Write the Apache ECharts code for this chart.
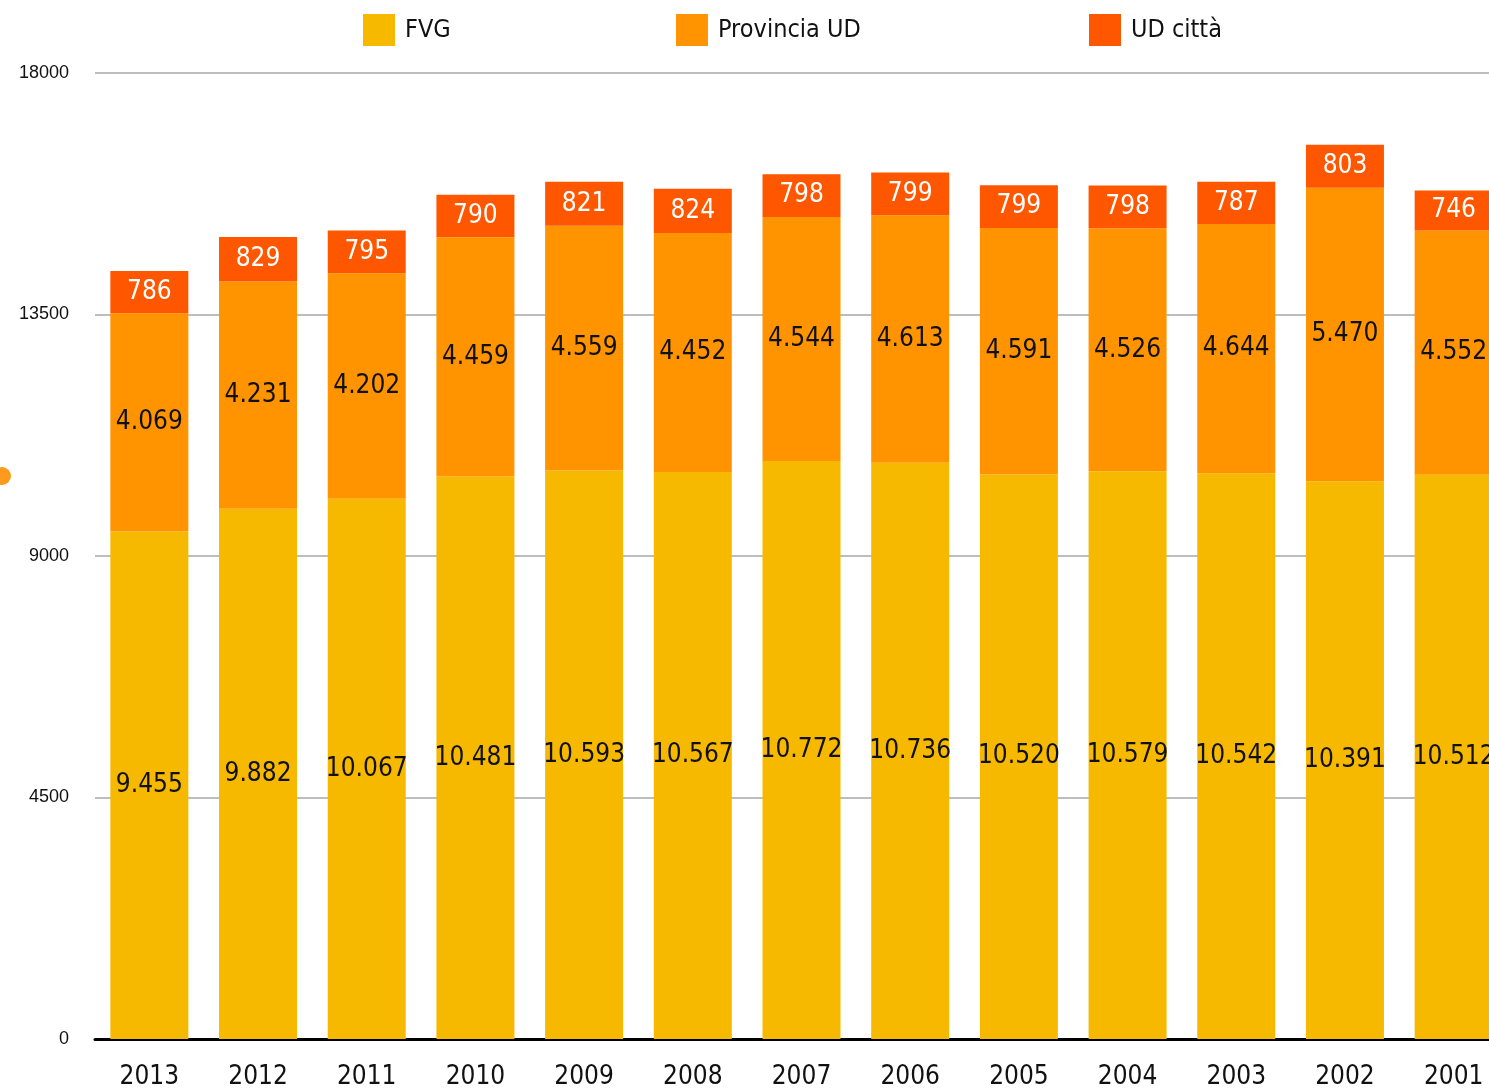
<!DOCTYPE html>
<html>
<head>
<meta charset="utf-8">
<title>FVG - Provincia UD - UD città</title>
<script src="https://cdn.jsdelivr.net/npm/echarts@6/dist/echarts.min.js"></script>
<style>
  html, body { margin: 0; padding: 0; background: #fff; overflow: hidden; }
  /* the plot runs a little past the right edge of the window, as in the original */
  #chart { width: 1508px; height: 1092px; }
</style>
</head>
<body>
<div id="chart"></div>
<script>
const years = ['2013', '2012', '2011', '2010', '2009', '2008', '2007', '2006', '2005', '2004', '2003', '2002', '2001'];
const fvg = [9455, 9882, 10067, 10481, 10593, 10567, 10772, 10736, 10520, 10579, 10542, 10391, 10512];
const provinciaUD = [4069, 4231, 4202, 4459, 4559, 4452, 4544, 4613, 4591, 4526, 4644, 5470, 4552];
const udCitta = [786, 829, 795, 790, 821, 824, 798, 799, 799, 798, 787, 803, 746];
const yTicks = [0, 4500, 9000, 13500, 18000];

const narrow = "'DejaVu Sans Condensed', 'Liberation Sans Narrow', sans-serif";

// Italian style thousands separator: 10.481
function itNum(v) {
    return String(v).replace(/\B(?=(\d{3})+(?!\d))/g, '.');
}

function legendItem(name, left) {
    return {
        data: [name],
        left: left,
        top: 9,
        itemWidth: 32,
        itemHeight: 32,
        icon: 'rect',
        selectedMode: false,
        textStyle: {
            fontFamily: narrow,
            fontSize: 25,
            color: '#111',
            padding: [0, 0, 0, 5],
        },
    };
}

function barSeries(name, data, color, labelColor) {
    return {
        name: name,
        type: 'bar',
        stack: 'total',
        barWidth: 78,
        data: data,
        itemStyle: { color: color },
        label: {
            show: true,
            position: 'inside',
            fontFamily: narrow,
            fontSize: 26,
            color: labelColor,
            formatter: (p) => itNum(p.value),
        },
    };
}

function getOption() {
    return {
        animation: false,
        backgroundColor: '#fff',
        legend: [
            legendItem('FVG', 358),
            legendItem('Provincia UD', 671),
            legendItem('UD città', 1084),
        ],
        grid: {
            left: 95,
            right: 0,
            top: 73,
            bottom: 53,
            containLabel: false,
        },
        xAxis: {
            type: 'category',
            data: years,
            axisTick: { show: false },
            axisLine: { lineStyle: { color: '#000', width: 3 } },
            axisLabel: {
                fontFamily: narrow,
                fontSize: 26,
                color: '#111',
                margin: 25,
            },
        },
        yAxis: {
            type: 'value',
            min: yTicks[0],
            max: yTicks[yTicks.length - 1],
            interval: 4500,
            axisLine: { show: false },
            axisTick: { show: false },
            axisLabel: {
                fontFamily: "'Liberation Sans', Arial, sans-serif",
                fontSize: 18,
                color: '#111',
                margin: 26,
                formatter: (v) => String(v),
            },
            splitLine: { lineStyle: { color: '#bdbdbd', width: 2 } },
        },
        graphic: [
            {
                type: 'circle',
                shape: { cx: 2, cy: 476, r: 9 },
                style: { fill: '#ff9a1e' },
            },
        ],
        series: [
            barSeries('FVG', fvg, '#f7b900', '#111'),
            barSeries('Provincia UD', provinciaUD, '#ff9400', '#111'),
            barSeries('UD città', udCitta, '#ff5700', '#fff'),
        ],
    };
}

const chart = echarts.init(document.getElementById('chart'));
chart.setOption(getOption());
window.addEventListener('resize', () => {
    chart.resize();
});
</script>
</body>
</html>
